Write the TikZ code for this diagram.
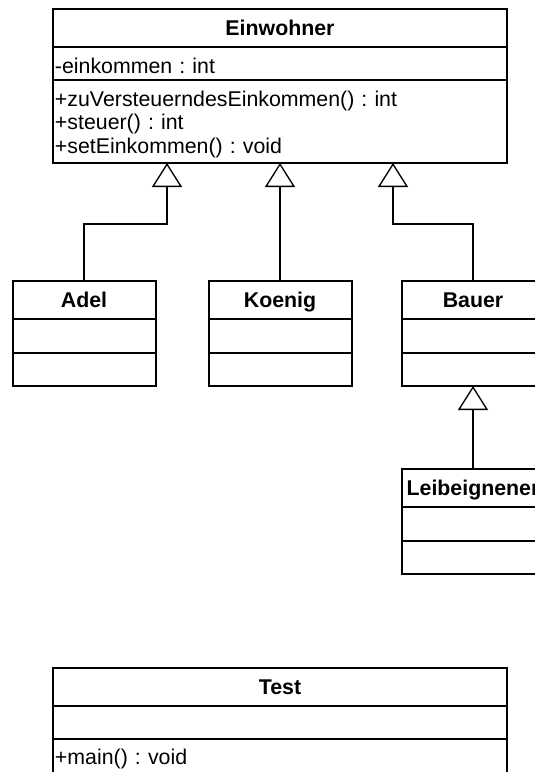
\documentclass[tikz,border=0pt]{standalone}
\usepackage{fontspec}
\setmainfont{Liberation Sans}
\usetikzlibrary{positioning,arrows.meta}
\frenchspacing

\begin{document}
\begin{tikzpicture}[x=0.75pt, y=-0.75pt, node distance=0pt,
                    every node/.style={draw, line width=1.5pt, inner xsep=1.5pt, inner ysep=0pt, outer sep=0pt, font=\fontsize{16}{17.6}\selectfont},
                    head/.style={font=\fontsize{16}{17.6}\selectfont\bfseries, align=center, minimum height=28.5pt, text height=13pt, text depth=1.5pt},
                    part/.style={align=left, minimum height=#1, execute at begin node={\rule{0pt}{15.5pt}}},
                    wide/.style={text width=337.5pt},
                    narrow/.style={text width=104.25pt},
                    inherit/.style={line width=1pt, -{Triangle[open, width=22.5pt, length=18pt]}}]
        \useasboundingbox (0,0) rectangle (535,772);

        \node (ein) [head, wide] at (280,28) {Einwohner};
        \node (einA) [part=24.75pt, wide, below = of ein] {-einkommen : int};
        \node (einM) [part=62.25pt, wide, below = of einA] {+zuVersteuerndesEinkommen() : int\\+steuer() : int\\+setEinkommen() : void};

        \node (adel) [head, narrow] at (84,300) {Adel};
        \node (adelA) [part=25.5pt, narrow, below = of adel] {};
        \node (adelM) [part=24.75pt, narrow, below = of adelA] {};

        \node (koenig) [head, narrow] at (280,300) {Koenig};
        \node (koenigA) [part=25.5pt, narrow, below = of koenig] {};
        \node (koenigM) [part=24.75pt, narrow, below = of koenigA] {};

        \node (bauer) [head, narrow] at (473,300) {Bauer};
        \node (bauerA) [part=25.5pt, narrow, below = of bauer] {};
        \node (bauerM) [part=24.75pt, narrow, below = of bauerA] {};

        \node (leib) [head, narrow, below = 62.25pt of bauerM] {Leibeignener};
        \node (leibA) [part=25.5pt, narrow, below = of leib] {};
        \node (leibM) [part=24.75pt, narrow, below = of leibA] {};

        \node (test) [head, wide] at (280,687) {Test};
        \node (testA) [part=24.75pt, wide, below = of test] {};
        \node (testM) [part=25.5pt, wide, below = of testA] {+main() : void};

        \coordinate (toAdel) at ([xshift=-84.75pt]einM.south);
        \coordinate (toBauer) at ([xshift=84.75pt]einM.south);

        \draw[inherit] (adel.north) -- ++(0,-57) -| (toAdel);
        \draw[inherit] (koenig.north) -- (einM.south);
        \draw[inherit] (bauer.north) -- ++(0,-57) -| (toBauer);
        \draw[inherit] (leib.north) -- (bauerM.south);
    \end{tikzpicture}
\end{document}
